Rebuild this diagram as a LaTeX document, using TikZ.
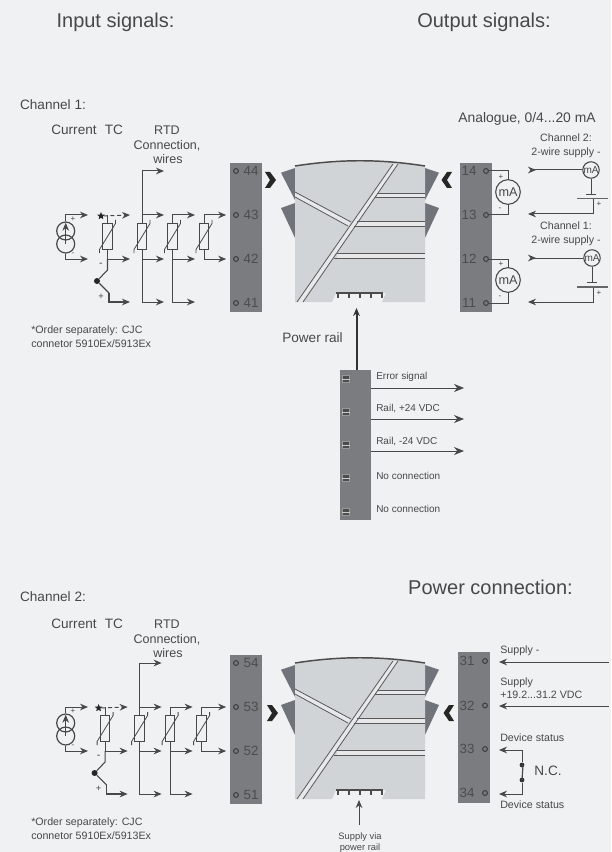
\documentclass[tikz,border=0pt]{standalone}
\usepackage{fontspec}
\setmainfont{Liberation Sans}
\usetikzlibrary{arrows.meta}
\usetikzlibrary{shapes.geometric}
\definecolor{paper}{RGB}{240,241,242}
\definecolor{barcol}{RGB}{122,124,127}
\definecolor{wedgecol}{RGB}{112,116,122}
\definecolor{bodycol}{RGB}{208,212,214}
\definecolor{inkcol}{RGB}{72,72,74}
\definecolor{wirecol}{RGB}{72,72,74}
\tikzset{lab/.style={inner sep=0,text=inkcol,font=\fontsize{8}{10}\selectfont}}
\tikzset{labm/.style={lab,font=\fontsize{9.4}{11}\selectfont}}
\tikzset{labl/.style={lab,font=\fontsize{10.2}{12}\selectfont}}
\tikzset{labt/.style={lab,font=\fontsize{15}{18}\selectfont}}

\begin{document}
\begin{tikzpicture}[x=0.75pt,y=-0.75pt,>={Stealth[length=6pt,width=5pt]}]
  \tikzset{wire/.style={draw=wirecol,line width=0.75pt}}
  \tikzset{inarrow/.style={wire,{Stealth[reversed,length=6pt,width=5pt]}-}}
  \tikzset{term/.style={circle,draw=black!75,line width=0.8pt,inner sep=0,minimum size=3.6pt}}
  \tikzset{barbox/.style={fill=barcol,inner sep=0,minimum width=24pt,minimum height=112pt}}
  \tikzset{rtdbox/.style={rectangle,draw=wirecol,fill=paper,line width=0.7pt,inner sep=0,minimum width=7pt,minimum height=20pt}}
  \tikzset{numlab/.style={lab,text=black!70,font=\fontsize{10}{12}\selectfont}}
  \tikzset{meter/.style={circle,draw=wirecol,fill=paper,line width=0.8pt,inner sep=0,text=inkcol}}
  \tikzset{chev/.style={fill=black!85}}
  \tikzset{strip/.style={draw=black!65,line width=0.6pt}}
  \tikzset{pinbox/.style={fill=black!70,draw=black!40,line width=0.3pt,inner sep=0,minimum width=5.5pt,minimum height=5pt}}

  \tikzset{heading/.pic={
    \node[labl] (curr) at (74,130) {Current};
    \node[labl] (tc) at (114,130) {TC};
    \node[labm] (rtd) at (167,130) {RTD};
    \node[labm] (conn) at (167,145.5) {Connection,};
    \node[labm] (wrs) at (168,159.5) {wires};
  }}

  \tikzset{pics/channel/.style 2 args={code={
    \node[barbox] (bar) at (246,237.5) {};
    \foreach \n/\y in {4/171,3/215,2/259,1/303} {
      \node[term] (t\n) at (236,\y) {};
      \node[numlab] (n\n) at (251,\y) {#1\n};
    }
    \node[lab,anchor=west] (ordera) at (31,331) {*Order separately: CJC};
    \node[lab,anchor=west] (orderb) at (31,344) {connetor 5910Ex/5913Ex};
    % current source
    \node[circle,draw=wirecol,line width=0.9pt,inner sep=0,minimum size=13.5pt] (csu) at (65.7,231) {};
    \node[circle,draw=wirecol,line width=0.9pt,inner sep=0,minimum size=13.5pt] (csl) at (65.7,244) {};
    \coordinate (ecu) at (88,215);
    \coordinate (ecl) at (88,259);
    \draw[wire,->] (csu.north) |- (ecu);
    \draw[wire,->] (csl.south) |- (ecl);
    \draw[wire,->,shorten >=1pt] (csl.center) -- (csu.north);
    \node[lab,font=\fontsize{6}{7}\selectfont] (csp) at (73,219) {+};
    \node[lab,font=\fontsize{6}{7}\selectfont] (csm) at (73,254) {-};
    % tc and rtd columns
    \begin{scope}[xshift=#2]
    \foreach \n/\x in {t/107.5,a/142,b/172.5,c/204} {
      \node[rtdbox] (r\n) at (\x,236.5) {};
    }
    \coordinate (eta) at (130,215);
    \coordinate (etb) at (130,259);
    \coordinate (etc) at (130,302);
    \node[star,star points=5,star point ratio=2.2,fill=black!85,inner sep=0,minimum size=6pt] (cjc) at (101,216) {};
    \draw[wire,densely dashed,->] (cjc.east) -- (eta);
    \draw[wire] (rt.north) -- (rt.north |- eta);
    \draw[wire,->] (rt.south) |- (etb);
    \node[circle,fill=black!85,inner sep=0,minimum size=4.5pt] (tcdot) at (97,281) {};
    \draw[wire,line width=0.8pt] (rt.south |- etb) -- (107.5,270) -- (tcdot) -- (109,293);
    \draw[wire,line width=0.8pt,->] (109,293) |- (etc);
    \node[lab,font=\fontsize{8}{9}\selectfont] (tcm) at (101,265) {-};
    \node[lab,font=\fontsize{7}{8}\selectfont] (tcp) at (101,297) {+};
    \coordinate (ea1) at (164,171);
    \coordinate (ea2) at (164,215);
    \coordinate (ea3) at (164,259);
    \coordinate (ea4) at (164,302);
    \draw[wire,->] (ra.north) |- (ea1);
    \draw[wire,->] (ra.north |- ea2) -- (ea2);
    \draw[wire,->] (ra.south |- ea3) -- (ea3);
    \draw[wire,->] (ra.south) |- (ea4);
    \coordinate (eb2) at (195,215);
    \coordinate (eb3) at (195,259);
    \coordinate (eb4) at (195,302);
    \draw[wire,->] (rb.north) |- (eb2);
    \draw[wire,->] (rb.south |- eb3) -- (eb3);
    \draw[wire,->] (rb.south) |- (eb4);
    \draw[wire,->,shorten >=5.2pt] (rc.north) |- (t3.west);
    \draw[wire,->,shorten >=5.2pt] (rc.south) |- (t2.west);
    \foreach \x in {107.5,142,172.5,204} {
      \draw[wire,line width=0.6pt] (\x-8,253) -- (\x-8,249.5) -- (\x+8,223.5) -- (\x+8,220);
    }
    \end{scope}
  }}}

  \tikzset{module/.pic={
    \fill[wedgecol] (281,172.7) -- (295,168) -- (295,200) -- cycle;
    \fill[wedgecol] (281,208) -- (295,203) -- (295,238) -- cycle;
    \fill[wedgecol] (439,172.7) -- (425,168) -- (425,200) -- cycle;
    \fill[wedgecol] (439,208) -- (425,203) -- (425,238) -- cycle;
    \fill[bodycol] (295,166) .. controls (340,159) and (380,159) .. (425,166) -- (425,302) -- (382,302)
      -- (386,293) -- (336,293) -- (332,302) -- (295,302) -- cycle;
    \draw[black!70,line width=1.1pt] (295,166) .. controls (340,159) and (380,159) .. (425,166);
    \fill[paper!70!bodycol] (297,302) -- (393,164) -- (398,164) -- (303,302) -- cycle;
    \fill[paper!70!bodycol] (295,192) -- (351,222) -- (348,226) -- (295,197) -- cycle;
    \fill[paper!70!bodycol] (377,193.3) rectangle (425,197.3);
    \fill[paper!70!bodycol] (356,221.7) rectangle (425,226);
    \fill[paper!70!bodycol] (337,253.3) rectangle (425,258.3);
    \draw[strip] (297,302) -- (393,164);
    \draw[strip] (303,302) -- (398,164);
    \draw[strip] (295,192) -- (351,222);
    \draw[strip] (295,197) -- (348,226);
    \draw[strip] (378,193.3) -- (425,193.3);
    \draw[strip] (375,197.3) -- (425,197.3);
    \draw[strip] (357,221.7) -- (425,221.7);
    \draw[strip] (354,226) -- (425,226);
    \draw[strip] (337,253.3) -- (425,253.3);
    \draw[strip] (334,258.3) -- (425,258.3);
    \draw[black!70,line width=1pt] (336,293) -- (383,293);
    \foreach \x in {338,349,360,371,382} {
      \draw[black!70,line width=1pt] (\x,293) -- (\x,298);
    }
  }}

  \fill[paper] (0,0) rectangle (611,852);
  \useasboundingbox (0,0) rectangle (611,852);

  \node[labt] (titlein) at (115.5,22) {Input signals:};
  \node[labt] (titleout) at (484,22) {Output signals:};
  \node[labl] (titleone) at (53,105) {Channel 1:};
  \node[labl] (titletwo) at (53,597) {Channel 2:};
  \node[labt] (titlepow) at (490.5,587) {Power connection:};

  \pic (heada) at (0,0) {heading};
  \pic (headb) at (0,494) {heading};
  \pic (cha) at (0,0) {channel={4}{0pt}};
  \pic (chb) at (0,492) {channel={5}{-1.8pt}};
  \pic (moda) at (0,0) {module};
  \pic (modb) at (0,497) {module};

  \fill[chev] (265,172) -- (270,172) -- (276,180) -- (270,188) -- (265,188) -- (270,180) -- cycle;
  \fill[chev] (452,172) -- (447,172) -- (441.5,180) -- (447,188) -- (452,188) -- (447,180) -- cycle;
  \fill[chev] (267,705) -- (272,705) -- (278,713) -- (272,721) -- (267,721) -- (272,713) -- cycle;
  \fill[chev] (454,705) -- (449,705) -- (443.5,713) -- (449,721) -- (454,721) -- (449,713) -- cycle;

  % output terminals
  \node[barbox] (outbar) at (476,237.5) {};
  \foreach \n/\y in {14/171,13/215,12/259,11/303} {
    \node[term] (o\n) at (486,\y) {};
    \node[numlab] (on\n) at (469,\y) {\n};
  }
  \node[labl,font=\fontsize{10.4}{12}\selectfont] (analog) at (527,119) {Analogue, 0/4...20 mA};
  \node[meter,minimum size=18.5pt,font=\fontsize{9.5}{11}\selectfont] (ma) at (508,192) {mA};
  \node[meter,minimum size=18.5pt,font=\fontsize{9.5}{11}\selectfont] (mb) at (508,280) {mA};
  \draw[wire] (o14.east) -| (ma.north);
  \draw[wire] (o13.east) -| (ma.south);
  \draw[wire] (o12.east) -| (mb.north);
  \draw[wire] (o11.east) -| (mb.south);
  \foreach \n/\x/\y/\s in {pa/501/177/+,qa/500/209/-,pb/501/264/+,qb/500/297/-} {
    \node[lab,font=\fontsize{6}{7}\selectfont] (s\n) at (\x,\y) {\s};
  }
  \node[lab] (chlabb) at (566,138) {Channel 2:};
  \node[lab] (supb) at (566,153) {2-wire supply -};
  \node[lab] (chlaba) at (566,226) {Channel 1:};
  \node[lab] (supa) at (566,241) {2-wire supply -};
  \node[meter,minimum size=12pt,font=\fontsize{7.5}{9}\selectfont] (mc) at (591,170) {mA};
  \node[meter,minimum size=12pt,font=\fontsize{7.5}{9}\selectfont] (md) at (592,258) {mA};
  \coordinate (la) at (528,170);
  \coordinate (lb) at (528,214);
  \coordinate (lc) at (528,258);
  \coordinate (ld) at (528,302);
  \coordinate (bata) at (591,194.5);
  \coordinate (batb) at (592,282.5);
  \coordinate (batc) at (593,198.5);
  \coordinate (batd) at (593,287);
  \draw[inarrow] (la) -- (mc.west);
  \draw[inarrow] (lc) -- (md.west);
  \draw[wire] (mc.south) -- (bata);
  \draw[wire] (md.south) -- (batb);
  \draw[wire,->] (batc) |- (lb);
  \draw[wire,->] (batd) |- (ld);
  \foreach \p in {bata,batb} {
    \draw[black!70,line width=1.2pt] ([xshift=-3.8pt]\p) -- ([xshift=3.8pt]\p);
  }
  \foreach \p in {batc,batd} {
    \draw[black!60,line width=0.9pt] ([xshift=-12pt]\p) -- ([xshift=11pt]\p);
  }
  \node[lab,font=\fontsize{6}{7}\selectfont] (sbata) at (599,204) {+};
  \node[lab,font=\fontsize{6}{7}\selectfont] (sbatb) at (599,293) {+};

  % power rail
  \node[barbox,minimum height=112.5pt,minimum width=23.5pt] (rail) at (355.5,445) {};
  \coordinate (railtip) at (356.5,308);
  \draw[black!80,line width=1.5pt,->] (rail.north -| railtip) -- (railtip);
  \node[labl] (pwrrail) at (312.5,338) {Power rail};
  \foreach \n/\y in {1/379,2/412,3/445,4/478,5/512} {
    \node[pinbox] (pin\n) at (346,\y) {};
    \draw[white!60!gray,line width=0.4pt] (pin\n.west) -- (pin\n.east);
  }
  \foreach \n/\y in {1/388,2/419,3/451} {
    \coordinate (re\n) at (464,\y);
    \draw[wire,-{Stealth[length=7.5pt,width=6pt]}] (rail.east |- re\n) -- (re\n);
  }
  \foreach \n/\y/\t in {a/377/Error signal,b/409/{Rail, +24 VDC},c/442/{Rail, -24 VDC},d/476/No connection,e/509/No connection} {
    \node[lab,anchor=west,font=\fontsize{7.5}{9}\selectfont] (rl\n) at (376,\y) {\t};
  }

  % power connection
  \node[barbox,minimum height=113pt] (pwrbar) at (474,727.5) {};
  \foreach \n/\y in {31/661,32/705.5,33/749,34/793} {
    \node[term] (p\n) at (485,\y) {};
    \node[numlab] (pn\n) at (467,\y) {\n};
  }
  \coordinate (sa) at (609,662);
  \coordinate (sb) at (609,706);
  \coordinate (rela) at (499,750);
  \coordinate (relb) at (499,794);
  \node[circle,fill=black!80,inner sep=0,minimum size=3.6pt] (ka) at (522,765) {};
  \node[circle,fill=black!80,inner sep=0,minimum size=3.6pt] (kb) at (522,780) {};
  \draw[wire,->] (sa) -- (sa -| rela);
  \draw[wire,->] (sb) -- (sb -| rela);
  \draw[wire,->] (ka) |- (rela);
  \draw[wire,->] (kb) |- (relb);
  \draw[wire,line width=0.9pt] (ka.center) ++(1,0) -- (kb.center);
  \node[labl] (nc) at (548,771) {N.C.};
  \node[lab,anchor=west] (sup) at (500,651) {Supply -};
  \node[lab,anchor=west] (supp) at (500,683) {Supply};
  \node[lab,anchor=west] (supv) at (500,695) {+19.2...31.2 VDC};
  \node[lab,anchor=west] (deva) at (500,738) {Device status};
  \node[lab,anchor=west] (devb) at (500,805) {Device status};
  \node[lab,font=\fontsize{7}{8}\selectfont] (viaa) at (360,837) {Supply via};
  \node[lab,font=\fontsize{7}{8}\selectfont] (viab) at (360,848) {power rail};
  \coordinate (viatip) at (359,800);
  \draw[wire,->] (viaa.north -| viatip) ++(0,-7) -- (viatip);
\end{tikzpicture}
\end{document}
